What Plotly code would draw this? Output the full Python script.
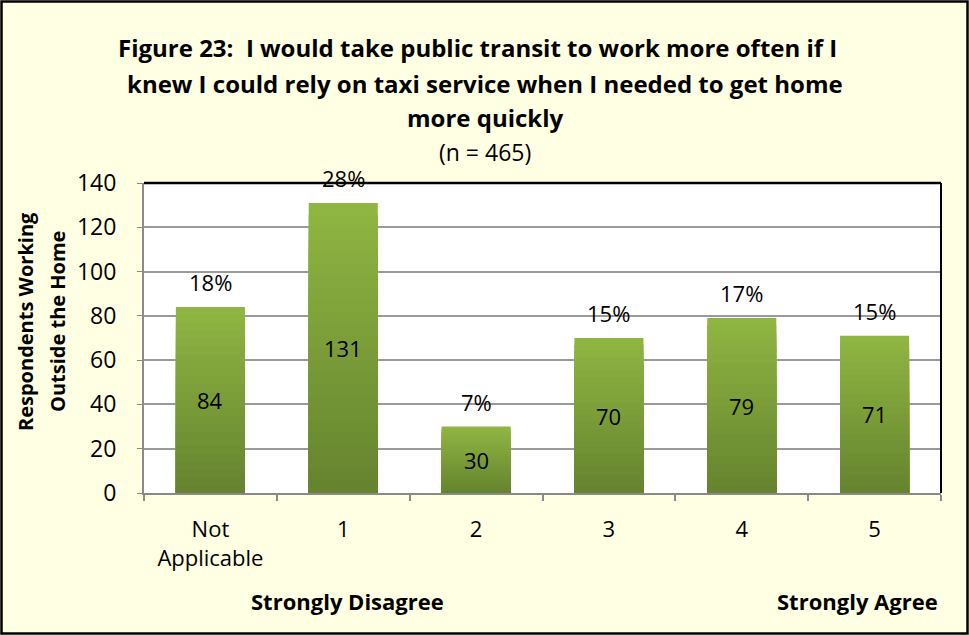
import plotly.graph_objects as go

categories = ["Not<br>Applicable", "1", "2", "3", "4", "5"]
counts = [84, 131, 30, 70, 79, 71]
percents = ["18%", "28%", "7%", "15%", "17%", "15%"]
y_ticks = [0, 20, 40, 60, 80, 100, 120, 140]

W, H = 969, 635
ML, MR, MT, MB = 144, 28, 183, 142
PW, PH = W - ML - MR, H - MT - MB

def px(x):
    return (x - ML) / PW

def py(y):
    return (H - MB - y) / PH

FONT = "Open Sans"
fig = go.Figure()

# gradient bars (light top -> dark bottom) as overlaid layers
N = 24
top = (143, 181, 66)
bot = (102, 132, 47)
for k in range(N):
    f = k / (N - 1)
    c = tuple(round(top[i] + (bot[i] - top[i]) * f) for i in range(3))
    frac = 1 - k / N
    fig.add_trace(go.Bar(
        x=categories, y=[v * frac for v in counts],
        marker=dict(color="rgb(%d,%d,%d)" % c, line=dict(width=0)),
        showlegend=False, hoverinfo="skip" if k else "y",
    ))

for cat, v, p in zip(categories, counts, percents):
    fig.add_annotation(x=cat, y=v / 2, text=str(v), showarrow=False,
                       font=dict(family=FONT, size=22, color="#000"))
    fig.add_annotation(x=cat, y=v, text=p, showarrow=False, yshift=25,
                       font=dict(family=FONT, size=22, color="#000"))

def note(x, y, text, size, angle=0):
    fig.add_annotation(xref="paper", yref="paper", x=px(x), y=py(y), text=text,
                       xanchor="center", yanchor="middle", textangle=angle,
                       showarrow=False, font=dict(family=FONT, size=size, color="#000"))

note(477, 48, "<b>Figure 23:  I would take public transit to work more often if I</b>", 24)
note(485, 83, "<b>knew I could rely on taxi service when I needed to get home</b>", 24)
note(485, 117, "<b>more quickly</b>", 24)
note(485, 152, "(n = 465)", 23)
note(25, 322, "<b>Respondents Working</b>", 20, -90)
note(57, 322, "<b>Outside the Home</b>", 20, -90)
note(347, 601, "<b>Strongly Disagree</b>", 22)
note(857, 601, "<b>Strongly Agree</b>", 22)

# plot area border top/right
fig.add_shape(type="line", xref="paper", yref="paper", x0=0, x1=1, y0=1, y1=1,
              line=dict(color="#000", width=2.5))
fig.add_shape(type="line", xref="paper", yref="paper", x0=1, x1=1, y0=0, y1=1,
              line=dict(color="#000", width=2))
# outer frame
fig.add_shape(type="rect", xref="paper", yref="paper", x0=px(1.5), x1=px(967.5),
              y0=py(633.5), y1=py(1.5), line=dict(color="#000", width=2.5))

fig.update_layout(
    width=W, height=H,
    margin=dict(l=ML, r=MR, t=MT, b=MB),
    paper_bgcolor="#FFFFE3", plot_bgcolor="#FFFFFF",
    barmode="overlay", bargap=0.48,
    font=dict(family=FONT, size=22, color="#000"),
    showlegend=False,
)
fig.update_xaxes(showline=True, linecolor="#8a8a8a", linewidth=2, ticks="outside",
                 tickson="boundaries", ticklen=6, tickcolor="#8a8a8a", tickwidth=1.5,
                 ticklabelstandoff=16,
                 tickfont=dict(family=FONT, size=22), showgrid=False)
fig.update_yaxes(range=[0, 140], tickvals=y_ticks, showline=True, linecolor="#8a8a8a",
                 linewidth=2, ticks="outside", ticklen=5, tickcolor="#8a8a8a",
                 ticklabelstandoff=16,
                 showgrid=True, gridcolor="#9a9a9a", gridwidth=1.5,
                 tickfont=dict(family=FONT, size=23), zeroline=False)

fig.write_html("out.html", config={"displayModeBar": False},
               post_script="document.body.style.margin='0';document.body.style.overflow='hidden';")
